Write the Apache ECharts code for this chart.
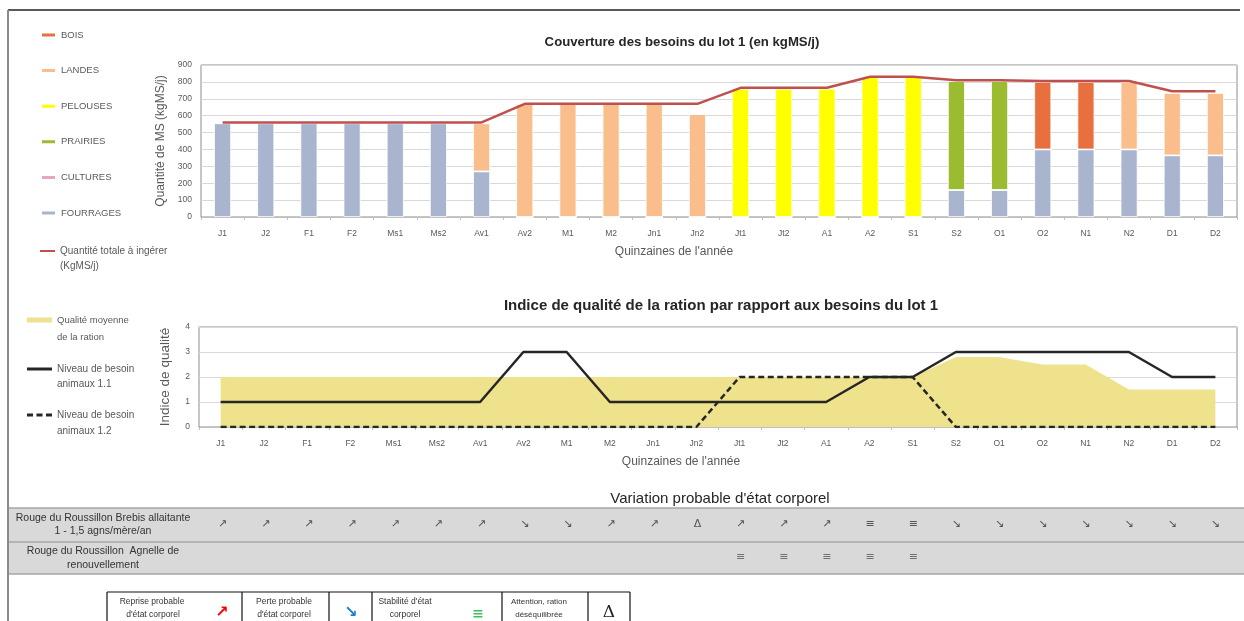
<!DOCTYPE html>
<html><head><meta charset="utf-8">
<script src="https://cdn.jsdelivr.net/npm/echarts@6/dist/echarts.min.js"></script>
<style>html,body{margin:0;padding:0;background:#fff}#c{width:1244px;height:621px}</style>
</head><body><div id="c"></div>
<script>
// ---------- DATA ----------
const categories = ['J1','J2','F1','F2','Ms1','Ms2','Av1','Av2','M1','M2','Jn1','Jn2','Jt1','Jt2','A1','A2','S1','S2','O1','O2','N1','N2','D1','D2'];
const fourrages = [555,555,555,555,555,555,270,0,0,0,0,0,0,0,0,0,0,160,160,400,400,400,365,365];
const cultures  = [0,0,0,0,0,0,0,0,0,0,0,0,0,0,0,0,0,0,0,0,0,0,0,0];
const prairies  = [0,0,0,0,0,0,0,0,0,0,0,0,0,0,0,0,0,645,645,0,0,0,0,0];
const pelouses  = [0,0,0,0,0,0,0,0,0,0,0,0,760,760,760,830,830,0,0,0,0,0,0,0];
const landes    = [0,0,0,0,0,0,285,670,670,670,670,610,0,0,0,0,0,0,0,0,0,400,370,370];
const bois      = [0,0,0,0,0,0,0,0,0,0,0,0,0,0,0,0,0,0,0,400,400,0,0,0];
const totale    = [560,560,560,560,560,560,560,670,670,670,670,670,765,765,765,830,830,810,810,805,805,805,745,745];
const qualiteMoyenne = [2,2,2,2,2,2,2,2,2,2,2,2,2,2,2,2,2,2.8,2.8,2.5,2.5,1.5,1.5,1.5];
const besoin11 = [1,1,1,1,1,1,1,3,3,1,1,1,1,1,1,2,2,3,3,3,3,3,2,2];
const besoin12 = [0,0,0,0,0,0,0,0,0,0,0,0,2,2,2,2,2,0,0,0,0,0,0,0];
const yTicksTop = [0,100,200,300,400,500,600,700,800,900];
const yTicksBottom = [0,1,2,3,4];
const rowBrebis  = ['↗','↗','↗','↗','↗','↗','↗','↘','↘','↗','↗','Δ','↗','↗','↗','≡','≡','↘','↘','↘','↘','↘','↘','↘'];
const rowAgnelle = ['','','','','','','','','','','','','≡','≡','≡','≡','≡','','','','','','',''];
const rowNames = ['Brebis','Agnelle'];

// ---------- STYLE ----------
const FONT = 'Liberation Sans, Arial, sans-serif';
const GRAY = '#595959';
const chart = echarts.init(document.getElementById('c'), null, {renderer:'canvas'});

function txt(x, y, text, size, extra) {
  return Object.assign({type:'text', x:x, y:y, z:10, style:Object.assign({
    text:text, fontSize:size, fontFamily:FONT, fill:'#333', align:'center', verticalAlign:'middle'
  }, extra || {})});
}
function ln(x1,y1,x2,y2,stroke,w){
  return {type:'line', z:5, shape:{x1:x1,y1:y1,x2:x2,y2:y2}, style:{stroke:stroke, lineWidth:w}};
}

const barDefs = [
  ['FOURRAGES', fourrages, '#A9B5CF'],
  ['CULTURES', cultures, '#E9A3C3'],
  ['PRAIRIES', prairies, '#9BBB30'],
  ['PELOUSES', pelouses, '#FFFF00'],
  ['LANDES', landes, '#F9BE8C'],
  ['BOIS', bois, '#E8703E']
];
const barSeries = barDefs.map(d => ({
  name:d[0], type:'bar', stack:'tot', xAxisIndex:0, yAxisIndex:0, data:d[1],
  barWidth:17, itemStyle:{color:d[2], borderColor:'#fff', borderWidth:0.8}, emphasis:{disabled:true}
}));

const axisLabelStyle = {fontSize:8.5, color:GRAY, fontFamily:FONT};
const solidIcon = 'path://M0,0h25v3h-25z';
const dashIcon = 'path://M0,0h6v3h-6zM9.5,0h6v3h-6zM19,0h6v3h-6z';

const option = {
  animation:false,
  backgroundColor:'#fff',
  textStyle:{fontFamily:FONT},
  grid:[
    {left:201, right:7, top:65, height:152, show:true, borderColor:'#8c8c8c', borderWidth:1, containLabel:false, outerBoundsMode:'none'},
    {left:199, right:7, top:327, height:100, show:true, borderColor:'#8c8c8c', borderWidth:1, containLabel:false, outerBoundsMode:'none'},
    {left:201, right:7, top:508, height:66, show:false, containLabel:false, outerBoundsMode:'none'}
  ],
  xAxis:[
    {gridIndex:0, type:'category', data:categories, boundaryGap:true,
     axisLine:{lineStyle:{color:'#bfbfbf'}}, axisTick:{show:true, length:3, lineStyle:{color:'#bfbfbf'}},
     axisLabel:Object.assign({interval:0, margin:12}, axisLabelStyle), splitLine:{show:false}},
    {gridIndex:1, type:'category', data:categories, boundaryGap:true,
     axisLine:{lineStyle:{color:'#bfbfbf'}}, axisTick:{show:true, length:3, lineStyle:{color:'#bfbfbf'}},
     axisLabel:Object.assign({interval:0, margin:12}, axisLabelStyle), splitLine:{show:false}},
    {gridIndex:2, type:'category', data:categories, boundaryGap:true, show:false}
  ],
  yAxis:[
    {gridIndex:0, type:'value', min:yTicksTop[0], max:yTicksTop[yTicksTop.length-1], interval:100,
     name:'Quantité de MS (kgMS/j)', nameLocation:'middle', nameGap:31, nameRotate:90,
     nameTextStyle:{fontSize:12, color:GRAY, fontFamily:FONT},
     axisLine:{show:false}, axisTick:{show:false},
     axisLabel:Object.assign({margin:9}, axisLabelStyle),
     splitLine:{lineStyle:{color:'#d9d9d9', width:1}}},
    {gridIndex:1, type:'value', min:yTicksBottom[0], max:yTicksBottom[yTicksBottom.length-1], interval:1,
     name:'Indice de qualité', nameLocation:'middle', nameGap:27, nameRotate:90,
     nameTextStyle:{fontSize:13.5, color:GRAY, fontFamily:FONT},
     axisLine:{show:false}, axisTick:{show:false},
     axisLabel:Object.assign({margin:9}, axisLabelStyle),
     splitLine:{lineStyle:{color:'#d9d9d9', width:1}}},
    {gridIndex:2, type:'category', data:rowNames, inverse:true, show:false}
  ],
  legend:[
    {orient:'vertical', left:40, top:29, padding:0, itemGap:23.6, itemWidth:15, itemHeight:5, icon:'rect',
     selectedMode:false, data:['BOIS','LANDES','PELOUSES','PRAIRIES','CULTURES','FOURRAGES'],
     textStyle:{fontSize:9.5, color:GRAY, fontFamily:FONT, lineHeight:12}},
    {orient:'vertical', left:40, top:245, padding:0, itemWidth:15, itemHeight:2, icon:'rect',
     selectedMode:false, data:['Quantité totale à ingérer (KgMS/j)'],
     formatter:()=> 'Quantité totale à ingérer',
     textStyle:{fontSize:10, color:GRAY, fontFamily:FONT, lineHeight:12}},
    {orient:'vertical', left:27, top:314, padding:0, itemWidth:25, itemHeight:5, icon:'rect',
     selectedMode:false, data:['Qualité moyenne de la ration'],
     formatter:()=> 'Qualité moyenne',
     textStyle:{fontSize:9.5, color:GRAY, fontFamily:FONT, lineHeight:12}},
    {orient:'vertical', left:27, top:363, padding:0, itemGap:34, itemWidth:25, itemHeight:3,
     selectedMode:false, data:[{name:'Niveau de besoin animaux 1.1', icon:solidIcon},{name:'Niveau de besoin animaux 1.2', icon:dashIcon}],
     formatter:()=> 'Niveau de besoin',
     textStyle:{fontSize:10, color:GRAY, fontFamily:FONT, lineHeight:12}}
  ],
  series: barSeries.concat([
    {name:'Quantité totale à ingérer (KgMS/j)', type:'line', xAxisIndex:0, yAxisIndex:0, data:totale,
     symbol:'none', color:'#C0504D', lineStyle:{color:'#C0504D', width:2.5}, z:5},
    {name:'Qualité moyenne de la ration', type:'line', xAxisIndex:1, yAxisIndex:1, data:qualiteMoyenne,
     symbol:'none', color:'#EEE38C', lineStyle:{width:0, color:'#EEE38C'}, areaStyle:{color:'#EEE38C', opacity:1}, z:2},
    {name:'Niveau de besoin animaux 1.1', type:'line', xAxisIndex:1, yAxisIndex:1, data:besoin11,
     symbol:'none', color:'#262626', lineStyle:{color:'#262626', width:2.5}, z:4},
    {name:'Niveau de besoin animaux 1.2', type:'line', xAxisIndex:1, yAxisIndex:1, data:besoin12,
     symbol:'none', color:'#262626', lineStyle:{color:'#262626', width:2.5, type:[6,3.5]}, z:4},
    {name:'rowBrebis', type:'scatter', xAxisIndex:2, yAxisIndex:2, symbolSize:1, itemStyle:{color:'rgba(0,0,0,0)'},
     data:categories.map((c,i)=>[c, rowNames[0]]), z:12,
     label:{show:true, position:'inside', formatter:p=>rowBrebis[p.dataIndex], fontSize:11, color:'#333', fontFamily:'DejaVu Sans, sans-serif'}},
    {name:'rowAgnelle', type:'scatter', xAxisIndex:2, yAxisIndex:2, symbolSize:1, itemStyle:{color:'rgba(0,0,0,0)'},
     data:categories.map((c,i)=>[c, rowNames[1]]), z:12,
     label:{show:true, position:'inside', formatter:p=>rowAgnelle[p.dataIndex], fontSize:11, color:'#555', fontFamily:'DejaVu Sans, sans-serif'}}
  ]),
  graphic:[
    ln(8,10,1240,10,'#222',1.5),
    ln(8,10,8,621,'#8a8a8a',2),
    {type:'rect', z:0, shape:{x:9,y:508,width:1235,height:34}, style:{fill:'#D9D9D9'}},
    {type:'rect', z:0, shape:{x:9,y:542,width:1235,height:32}, style:{fill:'#D9D9D9'}},
    ln(9,508,1244,508,'#a6a6a6',1.5),
    ln(9,542,1244,542,'#a6a6a6',1.5),
    ln(9,574,1244,574,'#a6a6a6',1.5),
    txt(682,42,'Couverture des besoins du lot 1 (en kgMS/j)',13.2,{fontWeight:'bold', fill:'#262626'}),
    txt(721,306,'Indice de qualité de la ration par rapport aux besoins du lot 1',15,{fontWeight:'bold', fill:'#262626'}),
    txt(720,499,'Variation probable d\'état corporel',15,{fill:'#262626'}),
    txt(674,252,'Quinzaines de l\'année',12,{fill:GRAY}),
    txt(681,462,'Quinzaines de l\'année',12,{fill:GRAY}),
    txt(60,266,'(KgMS/j)',10,{fill:GRAY, align:'left'}),
    txt(57,337,'de la ration',9.5,{fill:GRAY, align:'left'}),
    txt(57,384,'animaux 1.1',10,{fill:GRAY, align:'left'}),
    txt(57,431,'animaux 1.2',10,{fill:GRAY, align:'left'}),
    txt(103,518,'Rouge du Roussillon Brebis allaitante',10.5,{fill:'#333'}),
    txt(103,531,'1 - 1,5 agns/mère/an',10.5,{fill:'#333'}),
    txt(103,551,'Rouge du Roussillon  Agnelle de',10.5,{fill:'#333'}),
    txt(103,565,'renouvellement',10.5,{fill:'#333'}),
    ln(107,592,630,592,'#111',1.2),
    ln(107,592,107,621,'#111',1.2),
    ln(242,592,242,621,'#111',1.2),
    ln(329,592,329,621,'#111',1.2),
    ln(372,592,372,621,'#111',1.2),
    ln(502,592,502,621,'#111',1.2),
    ln(588,592,588,621,'#111',1.2),
    ln(630,592,630,621,'#111',1.2),
    txt(152,602,'Reprise probable',8.5,{fill:'#333'}),
    txt(153,615,'d\'état corporel',8.5,{fill:'#333'}),
    txt(222,613,'↗',16,{fill:'#FF0000', fontWeight:'bold', fontFamily:'DejaVu Sans, sans-serif'}),
    txt(284,602,'Perte probable',8.5,{fill:'#333'}),
    txt(284,615,'d\'état corporel',8.5,{fill:'#333'}),
    txt(351,613,'↘',16,{fill:'#1F7FD0', fontWeight:'bold', fontFamily:'DejaVu Sans, sans-serif'}),
    txt(405,602,'Stabilité d\'état',8.5,{fill:'#333'}),
    txt(405,615,'corporel',8.5,{fill:'#333'}),
    txt(478,614,'≡',14,{fill:'#3CC060', fontWeight:'bold', fontFamily:'DejaVu Sans, sans-serif'}),
    txt(539,602,'Attention, ration',8,{fill:'#333'}),
    txt(539,615,'déséquilibrée',8,{fill:'#333'}),
    txt(609,613,'Δ',17,{fill:'#222', fontFamily:'DejaVu Serif, Liberation Serif, serif'})
  ]
};
chart.setOption(option);
</script>
</body></html>
